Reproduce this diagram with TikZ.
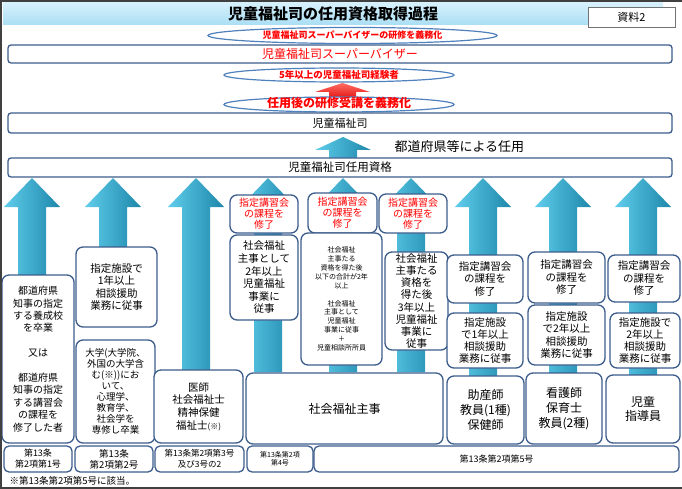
\documentclass[tikz,border=0pt]{standalone}
\usepackage{fontspec}
\setmainfont{Noto Sans CJK JP}
\usetikzlibrary{shapes.geometric}
\definecolor{boxblue}{RGB}{60,92,140}
\definecolor{ellblue}{RGB}{79,129,189}
\definecolor{arrowlight}{RGB}{95,205,235}
\definecolor{arrowdark}{RGB}{30,135,170}
\definecolor{titletop}{RGB}{214,241,252}
\definecolor{titlebot}{RGB}{170,222,244}
\definecolor{alertred}{RGB}{255,0,0}
\definecolor{redlight}{RGB}{255,110,100}
\definecolor{reddark}{RGB}{225,10,10}

\begin{document}
\begin{tikzpicture}[x=1pt, y=-1pt,
    panel/.style={draw=boxblue, line width=1.3pt, rounded corners=7pt, fill=white, align=center, inner sep=0pt},
    bar/.style={panel, rounded corners=3pt},
    redpanel/.style={panel, text=alertred, font=\fontsize{10}{11}\selectfont},
    oval/.style={ellipse, draw=ellblue, line width=1.2pt, fill=white, inner sep=0pt, text=alertred},
    sz/.style 2 args={minimum width=#1pt, minimum height=#2pt},
    fs/.style 2 args={font=\fontsize{#1}{#2}\selectfont},
    uparrow/.style={left color=arrowlight, right color=arrowdark}]
    \useasboundingbox (0,0) rectangle (682,489);

    \node[sz={660}{22}, top color=titletop, bottom color=titlebot, font=\bfseries\fontsize{15}{15}\selectfont] (title) at (333,14) {児童福祉司の任用資格取得過程};
    \node[draw=black!55, fill=white, sz={87}{20}, fs={11}{11}] (shiryo) at (631.5,17) {資料2};

    \node[oval, sz={289}{16}, font=\bfseries\fontsize{9}{9}\selectfont] (ov1) at (352.5,35.5) {児童福祉司スーパーバイザーの研修を義務化};
    \node[bar, sz={664}{18}, text=alertred, fs={12}{12}] (sv) at (340,54) {児童福祉司スーパーバイザー};
    \node[oval, sz={230}{14}, font=\bfseries\fontsize{9.5}{9.5}\selectfont] (ov2) at (339,75) {5年以上の児童福祉司経験者};
    \shade[top color=redlight, bottom color=reddark] (329,100) -- (329,92) -- (315,92) -- (342.5,83) -- (370,92) -- (356,92) -- (356,100) -- cycle;
    \node[oval, sz={230}{15}, font=\bfseries\fontsize{12}{12}\selectfont, text height=8pt, text depth=1pt] (ov3) at (339,104.5) {任用後の研修受講を義務化};
    \node[bar, sz={664}{20}, fs={11}{11}] (jfs) at (340,123) {児童福祉司};

    \shade[uparrow] (329,158) -- (329,150) -- (315,150) -- (343,137) -- (371,150) -- (357,150) -- (357,158) -- cycle;
    \node[fs={13}{13}, anchor=west] (ninyolbl) at (391,147) {都道府県等による任用};
    \node[bar, sz={664}{19}, fs={11.5}{11.5}] (ninyo) at (340,167.5) {児童福祉司任用資格};

    \foreach \cx/\bot in {32/280, 113/250, 196/372, 268/372, 343/372, 411/372, 483/376, 563/376, 643/376}
      \shade[uparrow] ({\cx-14},\bot) -- ({\cx-14},207) -- ({\cx-28},207) -- (\cx,178) -- ({\cx+28},207) -- ({\cx+14},207) -- ({\cx+14},\bot) -- cycle;

    \node[panel, sz={72}{168}, fs={10}{12.4}] (c1) at (38,359) {都道府県\\知事の指定\\する養成校\\を卒業\\[12.4pt]又は\\[12.4pt]都道府県\\知事の指定\\する講習会\\の課程を\\修了した者};
    \node[panel, sz={81}{80}, fs={10.5}{12.5}] (c2a) at (116.5,287) {指定施設で\\1年以上\\相談援助\\業務に従事};
    \node[panel, sz={79}{103}, fs={9.5}{11}] (c2b) at (115.5,391.5) {大学(大学院、\\外国の大学含\\む(※))にお\\いて、\\心理学、\\教育学、\\社会学を\\専修し卒業};
    \node[panel, sz={89}{73}, fs={10.5}{12.7}] (c3) at (198.5,406.5) {医師\\社会福祉士\\精神保健\\福祉士{\fontsize{8}{8}\selectfont(※)}};

    \node[redpanel, sz={68}{38}] (r4) at (264,214) {指定講習会\\の課程を\\修了};
    \node[panel, sz={68}{85}, fs={10.5}{12.6}] (c4) at (264,277.5) {社会福祉\\主事として\\2年以上\\児童福祉\\事業に\\従事};
    \node[redpanel, sz={69}{40}] (r5) at (342.5,213) {指定講習会\\の課程を\\修了};
    \node[panel, sz={81}{132}, fs={7}{8.9}] (c5) at (341.5,299) {社会福祉\\主事たる\\資格を得た後\\以下の合計が2年\\以上\\[8.9pt]社会福祉\\主事として\\児童福祉\\事業に従事\\＋\\児童相談所所員};
    \node[redpanel, sz={68}{39}] (r6) at (413,213.5) {指定講習会\\の課程を\\修了};
    \node[panel, sz={63}{98}, fs={10.5}{12.1}] (c6) at (416.5,301) {社会福祉\\主事たる\\資格を\\得た後\\3年以上\\児童福祉\\事業に\\従事};
    \node[panel, sz={197}{71}, fs={12}{12}] (shuji) at (344.5,408.5) {社会福祉主事};

    \node[panel, sz={76}{48}, fs={10.5}{12.5}] (c7a) at (485,279) {指定講習会\\の課程を\\修了};
    \node[panel, sz={76}{55}, fs={10.5}{12.3}] (c7b) at (485,340.5) {指定施設\\で1年以上\\相談援助\\業務に従事};
    \node[panel, sz={77}{68}, fs={12}{15}] (c7c) at (485.5,410) {助産師\\教員(1種)\\保健師};
    \node[panel, sz={77}{51}, fs={10.5}{12.5}] (c8a) at (566.5,277.5) {指定講習会\\の課程を\\修了};
    \node[panel, sz={77}{60}, fs={10.5}{12.3}] (c8b) at (566.5,335) {指定施設\\で2年以上\\相談援助\\業務に従事};
    \node[panel, sz={76}{71}, fs={12}{15}] (c8c) at (564,408.5) {看護師\\保育士\\教員(2種)};
    \node[panel, sz={72}{47}, fs={10.5}{12.5}] (c9a) at (644,278.5) {指定講習会\\の課程を\\修了};
    \node[panel, sz={70}{55}, fs={10.5}{12.3}] (c9b) at (645,340.5) {指定施設で\\2年以上\\相談援助\\業務に従事};
    \node[panel, sz={74}{68}, fs={12}{14}] (c9c) at (643,409) {児童\\指導員};

    \node[panel, rounded corners=5pt, sz={68}{26}, fs={9}{11}] (f1) at (38,459) {第13条\\第2項第1号};
    \node[panel, rounded corners=5pt, sz={78}{26}, fs={9.5}{11}] (f2) at (114,459) {第13条\\第2項第2号};
    \node[panel, rounded corners=5pt, sz={89}{26}, fs={8.5}{10.5}] (f3) at (199.5,459) {第13条第2項第3号\\及び3号の2};
    \node[panel, rounded corners=5pt, sz={66}{26}, fs={7}{8.5}] (f4) at (280,459) {第13条第2項\\第4号};
    \node[panel, rounded corners=5pt, sz={365}{26}, fs={9}{9}] (f5) at (496.5,459) {第13条第2項第5号};
    \node[anchor=west, fs={9.5}{9.5}] (note) at (6,481) {※第13条第2項第5号に該当。};

    \fill[black!75] (0,0) rectangle (682,2.5);
    \fill[black!75] (0,0) rectangle (1.5,489);
    \fill[black!75] (0,487) rectangle (682,489);
\end{tikzpicture}
\end{document}
